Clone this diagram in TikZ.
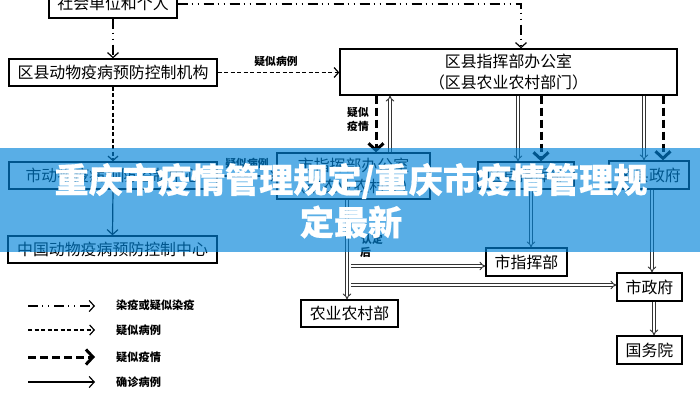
\documentclass[tikz,border=0pt]{standalone}
\usepackage{fontspec}
\setmainfont{Noto Sans CJK SC}
\newfontfamily\headfont[BoldFeatures={FakeBold=0.6}]{Noto Sans CJK SC}
\usetikzlibrary{arrows.meta}
\tikzset{
  box/.style={draw=black,line width=1.3pt,fill=white,inner sep=0pt,align=center,font=\fontsize{15.9}{21}\selectfont},
  small/.style={inner sep=0pt,align=center,font=\fontsize{10.8}{14}\selectfont\bfseries},
  legendtext/.style={inner sep=0pt,anchor=west,font=\fontsize{11.2}{14}\selectfont\bfseries},
  cause/.style={line width=1.2pt,dash pattern=on 10pt off 4pt on 1pt off 5pt on 1pt off 5pt,-{Straight Barb[length=5pt,width=11pt]}},
  suspect/.style={line width=1.2pt,dash pattern=on 4pt off 2.5pt,-{Straight Barb[length=4.5pt,width=10pt]}},
  thick dash/.style={line width=3pt,dash pattern=on 8pt off 4pt,-{Straight Barb[length=7pt,width=15pt]}},
  confirmed/.style={line width=1.2pt,-{Straight Barb[length=5pt,width=11pt]}},
  hollow/.style={draw=black!80,line width=.95pt,double=white,double distance=1.9pt,-{Implies[]}},
  band/.style={fill={rgb,255:red,0;green,132;blue,217},fill opacity=.65,draw=none},
  headline/.style={text=white,inner sep=0pt,font=\fontsize{34.1}{42}\headfont\selectfont\bfseries}
}
\begin{document}
\begin{tikzpicture}[x=1pt,y=-1pt]
\clip (0,0) rectangle (700,400);
\fill[white] (0,0) rectangle (700,400);
% boxes
\node[box,minimum width=128pt,minimum height=30pt] (social) at (113,3) {社会单位和个人};
\node[box,minimum width=208pt,minimum height=27pt] (county) at (113,72.5) {区县动物疫病预防控制机构};
\node[box,minimum width=337pt,minimum height=46pt] (office) at (508.5,72) {区县指挥部办公室\\（区县农业农村部门）};
\node[box,minimum width=208pt,minimum height=27pt] (city) at (113,175.5) {市动物疫病预防控制中心};
\node[box,minimum width=209pt,minimum height=27pt] (china) at (112.5,249.5) {中国动物疫病预防控制中心};
\node[box,minimum width=153pt,minimum height=46pt] (cityoffice) at (353.5,176) {市指挥部办公室\\（市农业农村委）};
\node[box,minimum width=96pt,minimum height=27pt] (countycmd) at (526,175.5) {区县指挥部};
\node[box,minimum width=80pt,minimum height=28pt] (countygov) at (649,175) {区县政府};
\node[box,minimum width=81pt,minimum height=28pt] (citycmd) at (526.5,262) {市指挥部};
\node[box,minimum width=65pt,minimum height=28pt] (citygov) at (649.5,287) {市政府};
\node[box,minimum width=65pt,minimum height=28pt] (council) at (649.5,350) {国务院};
\node[box,minimum width=97pt,minimum height=27pt] (ministry) at (349.5,313.5) {农业农村部};
% reference columns and rows
\foreach \n/\x in {a/113,b/521,c/376,d/390,e/518,f/541,g/644,h/663,i/531,j/652,k/654,l/347,m/351}
  \coordinate (col\n) at (\x,0);
\foreach \n/\y in {p/266,q/285,r/176}
  \coordinate (row\n) at (0,\y);
\coordinate (turn) at (521,4);
% connectors
\draw[cause] (social.south -| cola) -- (county.north -| cola);
\draw[cause] (social.east |- turn) -- (turn) -- (office.north -| colb);
\draw[suspect] (county) -- (office.west |- county);
\draw[suspect] (county.south) -- (city.north);
\draw[confirmed] (city.south) -- (china.north);
\draw[suspect] (city.east |- rowr) -- (cityoffice.west |- rowr);
\draw[thick dash] (office.south -| colc) -- (cityoffice.north -| colc);
\draw[hollow] (cityoffice.north -| cold) -- (office.south -| cold);
\draw[hollow] (office.south -| cole) -- (countycmd.north -| cole);
\draw[thick dash] (office.south -| colf) -- (countycmd.north -| colf);
\draw[hollow] (office.south -| colg) -- (countygov.north -| colg);
\draw[thick dash] (office.south -| colh) -- (countygov.north -| colh);
\draw[hollow] (countycmd.south -| coli) -- (citycmd.north -| coli);
\draw[hollow] (countygov.south -| colj) -- (citygov.north -| colj);
\draw[hollow] (citygov.south -| colk) -- (council.north -| colk);
\draw[hollow] (cityoffice.south -| coll) -- (ministry.north -| coll);
\draw[hollow] (colm |- rowp) -- (citycmd.west |- rowp);
\draw[hollow] (colm |- rowq) -- (citygov.west |- rowq);
% connector labels
\node[small] (l1) at (276,61) {疑似病例};
\node[small] (l2) at (247,163) {疑似病例};
\node[small] (l3) at (358,119) {疑似\\疫情};
\node[small,anchor=west] (l4) at (361,239) {认定};
\node[small,anchor=west] (l5) at (360,252) {后};
% legend
\foreach \n/\y in {a/306,b/330,c/357,d/382} {
  \coordinate (ls\n) at (28,\y);
  \coordinate (le\n) at (95,\y);
}
\draw[cause] (lsa) -- (lea);
\draw[suspect] (lsb) -- (leb);
\draw[thick dash] (lsc) -- (lec);
\draw[confirmed] (lsd) -- (led);
\node[legendtext] (t1) at (116,305) {染疫或疑似染疫};
\node[legendtext] (t2) at (116,330) {疑似病例};
\node[legendtext] (t3) at (116,357) {疑似疫情};
\node[legendtext] (t4) at (116,382) {确诊病例};
% overlay
\fill[band] (0,148) rectangle (700,252);
\node[headline] (h1) at (351,181) {重庆市疫情管理规定/重庆市疫情管理规};
\node[headline] (h2) at (351,222) {定最新};
\end{tikzpicture}
\end{document}
